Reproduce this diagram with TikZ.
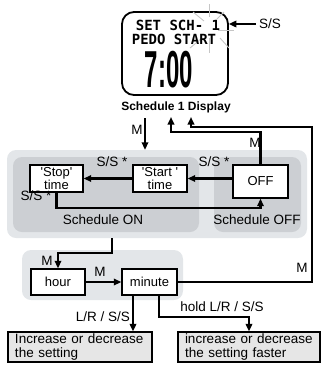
\documentclass[tikz,border=0pt]{standalone}
\usepackage{fontspec}
\setmainfont{Liberation Sans}
\newfontfamily\lcdfont{DejaVu Sans Mono}
\usetikzlibrary{arrows.meta,calc}
\definecolor{panelA}{HTML}{E3E6E9}
\definecolor{panelB}{HTML}{CCCFD3}
\definecolor{boxfill}{HTML}{E6E6E6}
\begin{document}
\begin{tikzpicture}[x=1pt,y=-1pt,
  lbl/.style={font=\fontsize{13.5}{13.5}\selectfont, inner sep=0pt},
  sbox/.style={draw, line width=1.4pt, fill=white, inner sep=0pt, align=center, font=\fontsize{13}{12.5}\selectfont},
  bbox/.style={draw, line width=1.3pt, fill=boxfill, minimum height=30pt, inner xsep=7pt, inner ysep=0pt, align=left, font=\fontsize{13.5}{14}\selectfont},
  conn/.style={line width=2.2pt, -{Triangle[length=7.5pt,width=6.5pt]}},
  ray/.style={gray!45, line width=0.9pt},
  panel/.style={rounded corners=9pt, inner sep=0pt},
  lcd/.style={font=\lcdfont\bfseries\fontsize{14}{14}\selectfont, inner sep=0pt, text height=10pt, text depth=1pt}
]
\useasboundingbox (0,0) rectangle (322,373);

% display
\node[draw, line width=1.8pt, rounded corners=12pt, minimum width=106pt, minimum height=83pt] (disp) at (175,53.5) {};
\draw[ray] (193,12) -- (204,21);
\draw[ray] (224,12) -- (217,19);
\draw[ray] (209,4) -- (209,17);
\draw[ray] (218,30) -- (234,30);
\draw[ray] (209,38) -- (209,53);
\draw[ray] (190,48) -- (202,38);
\draw[ray] (220,38) -- (229,48);
\node[lcd] (lcd1) at (178,26) {SET SCH- 1};
\node[lcd] (lcd2) at (174,39.5) {PEDO START};
\begin{scope}[shift={(169,69)}]
\node[font=\bfseries\fontsize{40}{40}\selectfont, xscale=0.6, yscale=1.3, inner sep=0pt, text height=28.6pt, text depth=0pt] (lcd3) at (0,0) {7:00};
\end{scope}
\node[lbl] (ss) at (270,24) {S/S};
\draw[conn] ([xshift=-3pt]ss.west) -- (ss.west -| disp.east);
\node[font=\bfseries\fontsize{12}{12}\selectfont, inner sep=0pt] (title) at (176,107) {Schedule 1 Display};

% panels
\node[panel, fill=panelA, minimum width=300pt, minimum height=88pt] (outer) at (157,194) {};
\node[panel, fill=panelB, minimum width=186pt, minimum height=75pt] (pon) at (106,194.5) {};
\node[panel, fill=panelB, minimum width=87pt, minimum height=75pt] (poff) at (257.5,194.5) {};
\node[panel, fill=panelA, minimum width=161pt, minimum height=50pt] (plow) at (102.5,275) {};

% coordinates
\coordinate (tipA) at (171,117);
\coordinate (tipB) at (191,117);
\coordinate (mstart) at (145,118);
\coordinate (pb) at (112,238);
\coordinate (ma) at (133,295);
\coordinate (mb) at (159,295);

% boxes
\node[sbox, minimum width=53pt, minimum height=27pt] (stop) at (56.5,178.5) {\textquotesingle Stop\textquotesingle\\time};
\node[sbox, minimum width=54pt, minimum height=27pt] (start) at (160,178.5) {\textquotesingle Start \textquotesingle\\time};
\node[sbox, minimum width=55pt, minimum height=33pt] (off) at (260.5,181.5) {OFF};
\node[sbox, minimum width=54pt, minimum height=26pt] (hour) at (58,282) {hour};
\node[sbox, minimum width=55pt, minimum height=26pt] (minute) at (149.5,282) {minute};
\node[bbox, text width=130pt] (inc1) at (80,347) {Increase or decrease\\the setting};
\node[bbox, text width=128pt] (inc2) at (249,347) {increase or decrease\\the setting faster};

% connectors
\draw[conn] (mstart) -- (mstart |- outer.north);
\draw[conn] (off.north) -- ++(0,-32) -| (tipA);
\draw[conn] (minute.east) -- (312,282) -- (312,127) -| (tipB);
\draw[conn] (off.west |- start) -- (start.east);
\draw[conn] (start.west) -- (stop.east);
\draw[conn] (stop.south) -- ++(0,15) -| (off.south);
\draw[conn] (pb) -- (112,253) -| (hour.north);
\draw[conn] (hour.east) -- (minute.west);
\draw[conn] (ma) -- (ma |- inc1.north);
\draw[conn] (mb) -- ++(0,22) -| (inc2.north);

% labels
\node[lbl] (lm1) at (137,130) {M};
\node[lbl] (lm2) at (255,143) {M};
\node[lbl] (lm3) at (302,268) {M};
\node[lbl] (lss1) at (112,162) {S/S *};
\node[lbl] (lss2) at (214,162) {S/S *};
\node[lbl] (lss3) at (36,196) {S/S *};
\node[lbl] (lon) at (103,220) {Schedule ON};
\node[lbl] (loff) at (257,220) {Schedule OFF};
\node[lbl] (lm4) at (47,261) {M};
\node[lbl] (lm5) at (100,272) {M};
\node[lbl] (llr) at (103,317) {L/R / S/S};
\node[lbl] (lhold) at (222,307) {hold L/R / S/S};
\end{tikzpicture}
\end{document}
